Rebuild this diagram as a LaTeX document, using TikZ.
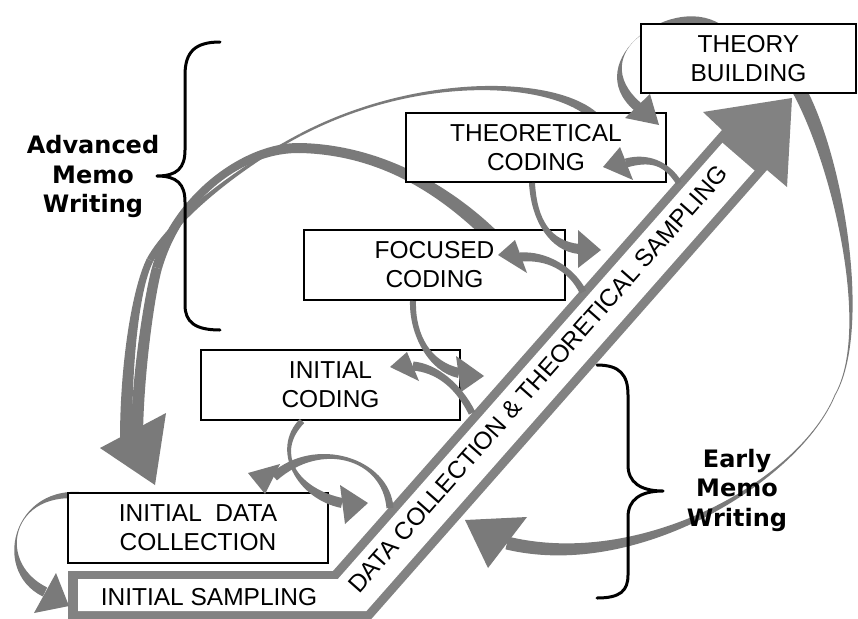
\documentclass[tikz,border=0pt]{standalone}
\usepackage{fontspec}
\setmainfont{Liberation Sans}
\newfontfamily\memofont{DejaVu Sans}
\usetikzlibrary{calc}

\definecolor{ribbon}{RGB}{122,122,122}
\definecolor{bandgray}{RGB}{130,130,130}

% A tapered ribbon along one cubic segment:
% #1 start, #2 #3 controls, #4 end, #5 half width at start, #6 half width at end
\newcommand{\ribbonseg}[6]{%
  \fill[ribbon] ($(#1)!#5!90:(#2)$)
    .. controls ($(#2)!#5!-90:(#1)$) and ($(#3)!#6!90:(#4)$) .. ($(#4)!#6!-90:(#3)$)
    -- ($(#4)!#6!90:(#3)$)
    .. controls ($(#3)!#6!-90:(#4)$) and ($(#2)!#5!90:(#1)$) .. ($(#1)!#5!-90:(#2)$)
    -- cycle;}
% A solid triangular arrow head
\newcommand{\headtri}[3]{\fill[ribbon] (#1) -- (#2) -- (#3) -- cycle;}

\begin{document}
\begin{tikzpicture}[x=1pt,y=-1pt,
  stage/.style={draw=black, line width=2.4pt, fill=white, inner sep=0pt,
    align=center, font=\fontsize{24.5}{29}\selectfont},
  memo/.style={align=center, font=\memofont\bfseries\fontsize{24}{29.5}\selectfont},
  brace/.style={draw=black, line width=3pt, line cap=round, line join=round}]

\fill[white] (0,0) rectangle (858,618);
\useasboundingbox (0,0) rectangle (858,618);

% ---- bent band: data collection & theoretical sampling ----
\fill[bandgray] (68,625) -- (68,571) -- (333,571) -- (722,130) -- (703,112)
  -- (792,98) -- (787,187) -- (767,170) -- (366,625) -- cycle;
\fill[white] (78,611) -- (78,579) -- (337.9,579) -- (722.4,142.8)
  -- (754.5,170.6) -- (366.4,611) -- cycle;
\node[font=\fontsize{24.5}{29}\selectfont, rotate=48.6] (bandtext) at (538,379)
  {DATA COLLECTION \& THEORETICAL SAMPLING};
\node[font=\fontsize{24.5}{29}\selectfont] (sampling) at (209,597) {INITIAL SAMPLING};

% ---- ribbons that pass behind the boxes ----
% theory building, round the right side, back to the band
\ribbonseg{798,88}{838,160}{872,330}{835,395}{7pt}{0.4pt}
\ribbonseg{835,395}{800,480}{640,575}{507,543}{0.4pt}{6.5pt}
\headtri{527,517}{465,520}{488,568}

% theory building, over the top, into theoretical coding
\ribbonseg{722,32}{672,-8}{580,58}{638,107}{5.5pt}{5pt}

% advanced memo writing arcs down to initial data collection
\ribbonseg{598,120}{560,78}{420,72}{300,135}{4.5pt}{1.2pt}
\ribbonseg{300,135}{245,164}{175,215}{150,260}{1.2pt}{3.5pt}
\ribbonseg{150,260}{136,288}{126,360}{126,440}{3.5pt}{6pt}
\ribbonseg{492,236}{455,200}{390,150}{300,148}{7pt}{5pt}
\ribbonseg{300,148}{245,147}{178,195}{157,268}{5pt}{5pt}
\ribbonseg{157,268}{150,293}{138,370}{137,434}{5pt}{6pt}
\headtri{100,448}{166,413}{155,485}

% initial data collection round to initial sampling
\ribbonseg{95,498}{15,478}{-10,565}{45,592}{3.5pt}{5pt}
\headtri{34,613}{56,573}{69,606}

% ---- stages ----
\node[stage, minimum width=215pt, minimum height=69pt] (theory) at (748.5,58.5) {THEORY\\BUILDING};
\node[stage, minimum width=260pt, minimum height=69pt] (theocoding) at (536,147.5) {THEORETICAL\\CODING};
\node[stage, minimum width=261pt, minimum height=70pt] (focused) at (434.5,265) {FOCUSED\\CODING};
\node[stage, minimum width=259pt, minimum height=70pt] (initcoding) at (330.5,385) {INITIAL\\CODING};
\node[stage, minimum width=260pt, minimum height=70pt] (initdata) at (198,528) {INITIAL~~DATA\\COLLECTION};

% ---- ribbons in front of the boxes ----
\headtri{625,118}{650,94}{659,125}

% band <-> theoretical coding
\ribbonseg{679,183}{666,162}{648,157}{626,163}{3pt}{4.5pt}
\headtri{620,147}{603,167}{633,180}

% theoretical coding -> band, band -> focused coding
\ribbonseg{532,183}{534,220}{550,246}{579,249}{3pt}{5pt}
\headtri{578,230}{601,250}{578,268}
\ribbonseg{583,292}{571,268}{546,255}{520,257}{3.5pt}{4.5pt}
\headtri{515,240}{498,255}{527,273}

% focused coding -> band, band -> initial coding
\ribbonseg{413,301}{412,335}{430,367}{459,373}{3pt}{5pt}
\headtri{456,356}{484,376}{461,392}
\ribbonseg{472,413}{458,385}{436,368}{413,366}{3.5pt}{4.5pt}
\headtri{407,352}{390,367}{419,381}

% initial coding -> band, band -> initial data collection
\ribbonseg{302,421}{272,452}{298,494}{342,503}{3pt}{5pt}
\headtri{340,485}{368,503}{345,524}
\ribbonseg{390,508}{386,458}{318,438}{274,477}{3.5pt}{4.5pt}
\headtri{280,464}{248,473}{265,494}

% ---- memo writing braces and labels ----
\draw[brace] (220,42) .. controls (195,42) and (185,52) .. (185,75) -- (185,150)
  .. controls (185,168) and (177,176) .. (157,176)
  .. controls (177,176) and (185,184) .. (185,202) -- (185,305)
  .. controls (185,322) and (195,330) .. (220,330);
\draw[brace] (597,365) .. controls (620,365) and (628,375) .. (628,395) -- (628,465)
  .. controls (628,482) and (640,491) .. (663,491)
  .. controls (640,491) and (628,500) .. (628,517) -- (628,575)
  .. controls (628,591) and (620,598) .. (597,598);

\node[memo] (advanced) at (93,176.6) {Advanced\\Memo\\Writing};
\node[memo] (early) at (737,490) {Early\\Memo\\Writing};
\end{tikzpicture}
\end{document}
